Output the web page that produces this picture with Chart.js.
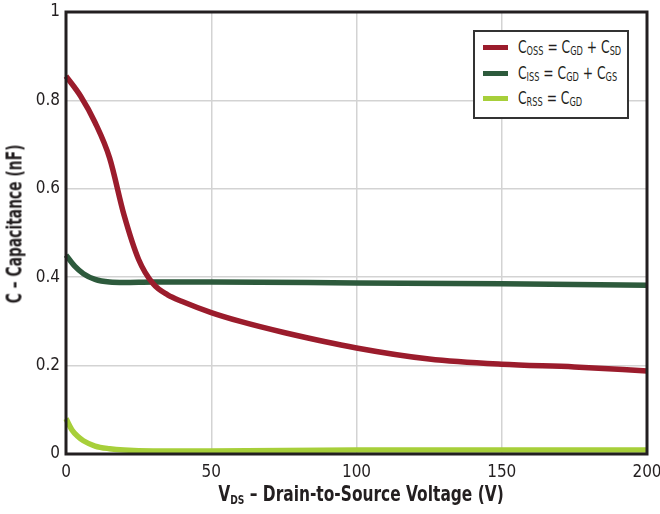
<!DOCTYPE html>
<html>
<head>
<meta charset="utf-8">
<script src="https://cdn.jsdelivr.net/npm/chart.js@4.4.1/dist/chart.umd.min.js"></script>
<style>
  html, body { margin: 0; padding: 0; background: #fff; }
  #wrap { position: relative; width: 660px; height: 514px; font-family: "Liberation Sans Narrow", "DejaVu Sans Condensed", "Roboto", sans-serif; color: #231f20; }
  #wrap canvas { position: absolute; left: 0; top: 0; }
  .legend { position: absolute; left: 473px; top: 30px; width: 152px; height: 85px; border: 2px solid #333; background: #fff; }
  .row { position: absolute; left: 0; height: 24px; font-size: 18px; line-height: 24px; white-space: nowrap; }
  .sw { position: absolute; left: 8px; top: 10px; width: 25px; height: 5px; }
  .txt { position: absolute; left: 43px; top: 0; transform: scaleX(0.76); transform-origin: 0 50%; }
  .txt sub { font-size: 12px; vertical-align: -2px; }
  .ytitle { position: absolute; left: 14px; top: 224px; transform: translate(-50%, -50%) rotate(-90deg) scaleX(0.7); font-weight: bold; font-size: 22px; white-space: nowrap; }
  .xtitle { position: absolute; left: 361px; top: 494px; transform: translate(-50%, -50%) scaleX(0.78); font-weight: bold; font-size: 22px; white-space: nowrap; }
  .xtitle sub { font-size: 13px; vertical-align: -3px; }
</style>
</head>
<body>
<div id="wrap">
  <canvas id="c" width="660" height="514"></canvas>
  <div class="legend">
    <div class="row" style="top:3px"><span class="sw" style="background:#9b1c2c"></span><span class="txt">C<sub>OSS</sub> = C<sub>GD</sub> + C<sub>SD</sub></span></div>
    <div class="row" style="top:29px"><span class="sw" style="background:#2d5a3c"></span><span class="txt">C<sub>ISS</sub> = C<sub>GD</sub> + C<sub>GS</sub></span></div>
    <div class="row" style="top:54px"><span class="sw" style="background:#a7cf3a"></span><span class="txt">C<sub>RSS</sub> = C<sub>GD</sub></span></div>
  </div>
  <div class="ytitle">C – Capacitance (nF)</div>
  <div class="xtitle">V<sub>DS</sub> – Drain-to-Source Voltage (V)</div>
</div>
<script>
// valores
const cossV = [0, 5, 10, 15, 20, 25, 30, 35, 40, 50, 60, 75, 100, 125, 150, 175, 200];
const cossC = [0.855, 0.81, 0.75, 0.67, 0.54, 0.44, 0.385, 0.36, 0.345, 0.32, 0.30, 0.275, 0.24, 0.215, 0.203, 0.197, 0.188];

const cissV = [0, 3, 6, 10, 15, 20, 30, 50, 100, 150, 200];
const cissC = [0.45, 0.425, 0.408, 0.395, 0.389, 0.388, 0.389, 0.389, 0.387, 0.385, 0.382];

const crssV = [0, 2, 4, 6, 10, 15, 20, 30, 50, 100, 200];
const crssC = [0.08, 0.055, 0.04, 0.03, 0.018, 0.012, 0.009, 0.007, 0.007, 0.009, 0.009];

const xTicks = [0, 50, 100, 150, 200];
const yTicks = [0, 0.2, 0.4, 0.6, 0.8, 1];

const pts = (xs, ys) => xs.map((x, i) => ({ x: x, y: ys[i] }));

const TICK_FONT = { family: '"Liberation Sans Narrow", "DejaVu Sans Condensed", Roboto, sans-serif', size: 17 };

// marco negro alrededor del área del gráfico
const frame = {
  id: "frame",
  afterDatasetsDraw(chart) {
    const a = chart.chartArea, ctx = chart.ctx;
    ctx.save();
    ctx.strokeStyle = "#231f20";
    ctx.lineWidth = 3;
    ctx.strokeRect(a.left, a.top, a.right - a.left, a.bottom - a.top);
    ctx.restore();
  }
};

new Chart(document.getElementById("c"), {
  type: "line",
  data: {
    datasets: [
      { label: "Coss", data: pts(cossV, cossC), borderColor: "#9b1c2c" },
      { label: "Ciss", data: pts(cissV, cissC), borderColor: "#2d5a3c" },
      { label: "Crss", data: pts(crssV, crssC), borderColor: "#a7cf3a" }
    ]
  },
  options: {
    responsive: false,
    animation: false,
    clip: false,
    layout: { padding: { left: 0, right: 13, top: 12, bottom: 0 } },
    elements: {
      line: { borderWidth: 5.5, cubicInterpolationMode: "monotone", borderCapStyle: "butt" },
      point: { radius: 0 }
    },
    scales: {
      x: {
        type: "linear", min: 0, max: 200,
        afterBuildTicks: s => { s.ticks = xTicks.map(v => ({ value: v })); },
        afterFit: s => { s.height = 60; s.paddingLeft = 0; s.paddingRight = 0; },
        grid: { color: "#d3d3d3", lineWidth: 1.5, drawTicks: false },
        border: { display: false },
        ticks: { color: "#231f20", font: TICK_FONT, padding: 8, maxRotation: 0 }
      },
      y: {
        min: 0, max: 1,
        afterBuildTicks: s => { s.ticks = yTicks.map(v => ({ value: v })); },
        afterFit: s => { s.width = 66; s.paddingTop = 0; s.paddingBottom = 0; },
        grid: { color: "#d3d3d3", lineWidth: 1.5, drawTicks: false },
        border: { display: false },
        ticks: { color: "#231f20", font: TICK_FONT, padding: 6, callback: v => String(v) }
      }
    },
    plugins: { legend: { display: false }, tooltip: { enabled: false } }
  },
  plugins: [frame]
});
</script>
</body>
</html>
